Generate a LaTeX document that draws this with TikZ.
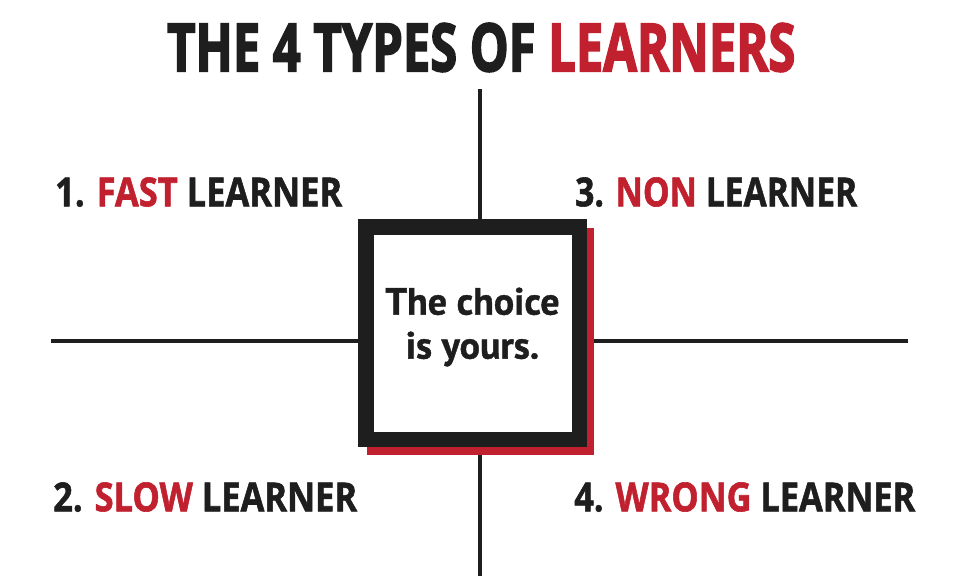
\documentclass[tikz,border=0pt]{standalone}
\usepackage{fontspec}
\setmainfont{PT Sans}[BoldFeatures={FakeBold=1}]
\newfontfamily\labfont{Open Sans}[BoldFeatures={FakeBold=1.5}]
\newfontfamily\titfont{Open Sans}[BoldFeatures={FakeBold=3}]
\definecolor{lred}{HTML}{C1202E}
\definecolor{lblack}{HTML}{1E1E1E}
\begin{document}
\begin{tikzpicture}[x=1pt,y=-1pt,
  rule/.style={draw=lblack,line width=3.6pt},
  lbl/.style={anchor=south west,inner sep=0pt,text=lblack},
  hl/.style={text=lred}]
\useasboundingbox (0,0) rectangle (963,576);
\fill[white] (0,0) rectangle (963,576);
% title
\node[lbl] (title) at (167,72) {\resizebox{628pt}{48pt}{\titfont\bfseries THE 4 TYPES OF \textcolor{lred}{LEARNERS}}};
% cross lines
\coordinate (vtop) at (480,89);
\coordinate (vbot) at (480,576);
\coordinate (hleft) at (51,341);
\coordinate (hright) at (908,341);
\draw[rule] (vtop) -- (vbot);
\draw[rule] (hleft) -- (hright);
% central box
\node[fill=lred,minimum width=227pt,minimum height=227pt,inner sep=0pt] (shadow) at (480.5,341.5) {};
\node[draw=lblack,fill=white,line width=15.5pt,minimum width=213.5pt,minimum height=212.5pt,inner sep=0pt] (box) at (472.5,333) {};
\node[align=center,text=lblack,font=\bfseries\fontsize{38}{44}\selectfont,inner sep=0pt] (choice) at (472.5,327) {The choice\\is yours.};
% labels
\node[lbl] (l1) at (55,207) {\resizebox{287pt}{29pt}{\labfont\bfseries 1. \textcolor{lred}{FAST} LEARNER}};
\node[lbl] (l3) at (575,207) {\resizebox{282pt}{29pt}{\labfont\bfseries 3. \textcolor{lred}{NON} LEARNER}};
\node[lbl] (l2) at (53,512) {\resizebox{304pt}{29pt}{\labfont\bfseries 2. \textcolor{lred}{SLOW} LEARNER}};
\node[lbl] (l4) at (574,512) {\resizebox{341pt}{29pt}{\labfont\bfseries 4. \textcolor{lred}{WRONG} LEARNER}};
\end{tikzpicture}
\end{document}
